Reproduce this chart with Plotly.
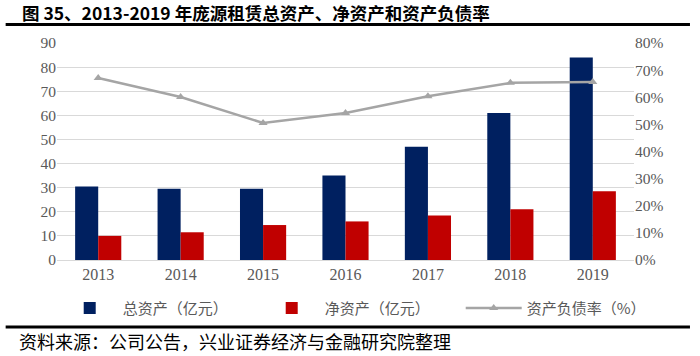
import plotly.graph_objects as go

years = ["2013", "2014", "2015", "2016", "2017", "2018", "2019"]
total_assets = [30.5, 29.5, 29.5, 35.0, 47.0, 61.0, 84.0]
net_assets = [10.0, 11.5, 14.5, 16.0, 18.5, 21.0, 28.5]
debt_ratio = [0.671, 0.601, 0.505, 0.542, 0.604, 0.653, 0.656]

left_ticks = list(range(0, 100, 10))
right_ticks = [i / 10 for i in range(0, 9)]
right_labels = [f"{i*10}%" for i in range(0, 9)]

fig = go.Figure()
fig.add_trace(go.Bar(x=years, y=total_assets, name="总资产（亿元）",
                     marker=dict(color="#002060", line=dict(width=0))))
fig.add_trace(go.Bar(x=years, y=net_assets, name="净资产（亿元）",
                     marker=dict(color="#C00000", line=dict(width=0))))
fig.add_trace(go.Scatter(x=years, y=debt_ratio, name="资产负债率（%）", yaxis="y2",
                         mode="lines+markers",
                         line=dict(color="#A5A5A5", width=2.5),
                         marker=dict(symbol="triangle-up", size=8, color="#A5A5A5")))

tick_font = dict(family="Liberation Serif", size=15.5, color="#595959")

fig.update_layout(
    width=700, height=356,
    margin=dict(l=57, r=66, t=43, b=96, autoexpand=False),
    paper_bgcolor="white", plot_bgcolor="white",
    barmode="group", bargap=0.44, bargroupgap=0,
    showlegend=True,
    legend=dict(orientation="h", x=-0.0005, y=-0.222, xanchor="left", yanchor="middle",
                font=dict(family="Noto Sans CJK SC", size=15, color="#595959"),
                itemwidth=56, entrywidth=131, entrywidthmode="pixels", traceorder="normal"),
    xaxis=dict(showgrid=False, showline=True, linecolor="#D9D9D9", ticks="",
               tickfont=dict(family="Liberation Serif", size=16, color="#595959")),
    yaxis=dict(range=[0, 90], tickvals=left_ticks, showgrid=True, gridcolor="#D9D9D9",
               gridwidth=1, zeroline=False, showline=False, tickfont=tick_font, ticklen=0,
               ticks=""),
    yaxis2=dict(range=[0, 0.8], tickvals=right_ticks, ticktext=right_labels, overlaying="y",
                side="right", showgrid=False, zeroline=False, tickfont=tick_font, ticks=""),
    font=dict(family="Noto Sans CJK SC"),
)

fig.add_annotation(text="<b>图 35、2013-2019 年庞源租赁总资产、净资产和资产负债率</b>",
                   xref="paper", yref="paper", x=-0.064, y=1.1406, xanchor="left", yanchor="middle",
                   showarrow=False, font=dict(family="Noto Sans CJK SC", size=17.5, color="black"))
fig.add_annotation(text="资料来源：公司公告，兴业证券经济与金融研究院整理",
                   xref="paper", yref="paper", x=-0.07, y=-0.373, xanchor="left", yanchor="middle",
                   showarrow=False, font=dict(family="Noto Sans CJK SC", size=18, color="black"))

fig.add_shape(type="line", xref="paper", yref="paper", x0=-0.089, x1=1.097, y0=1.085, y1=1.085,
              line=dict(color="black", width=3))
fig.add_shape(type="line", xref="paper", yref="paper", x0=-0.089, x1=1.097, y0=-0.309, y1=-0.309,
              line=dict(color="black", width=3))

fig.write_html("out.html", post_script="document.body.style.margin='0px';",
               config={"displayModeBar": False})
